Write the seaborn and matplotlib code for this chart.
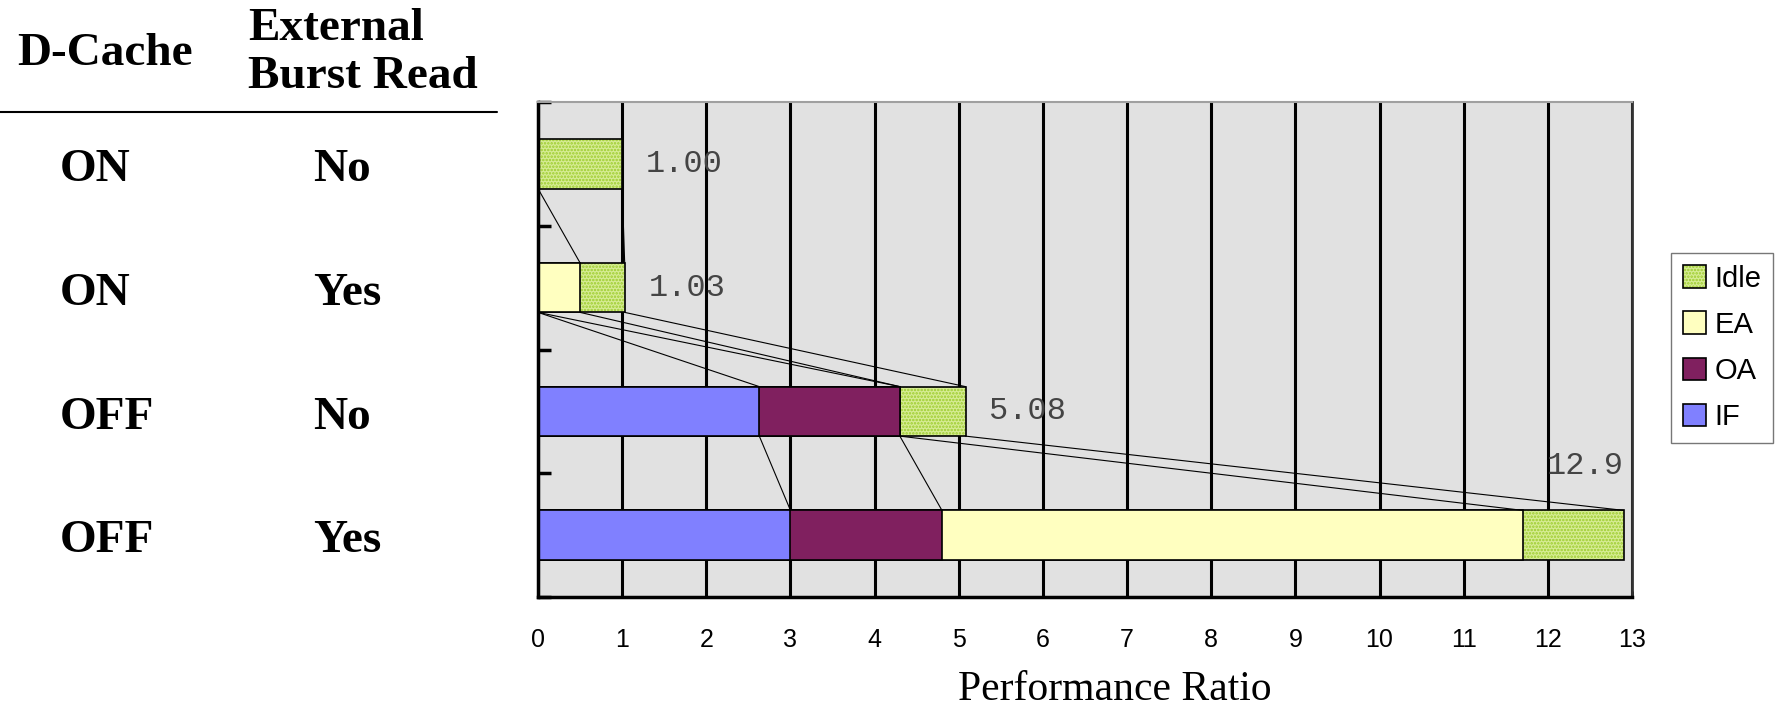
import matplotlib
matplotlib.use('Agg')
import matplotlib.pyplot as plt
import matplotlib.patches as mpatches
import matplotlib.transforms as mtransforms
from matplotlib.lines import Line2D
import seaborn as sns
import pandas as pd
import numpy as np

# valores
configs = ['ON-No', 'ON-Yes', 'OFF-No', 'OFF-Yes']
dcache = ['ON', 'ON', 'OFF', 'OFF']
burst = ['No', 'Yes', 'No', 'Yes']
if_vals = [0.0, 0.0, 2.63, 3.0]
oa_vals = [0.0, 0.0, 1.67, 1.8]
ea_vals = [0.0, 0.5, 0.0, 6.9]
idle_vals = [1.0, 0.53, 0.78, 1.2]
total_labels = ['1.00', '1.03', '5.08', '12.9']
x_ticks = list(range(0, 14))

col_if = '#8080ff'
col_oa = '#80205f'
col_ea = '#ffffc0'
col_idle = '#d6ec94'
col_idle_hatch = '#9ccc2c'

sns.set_style('white')
plt.rcParams['font.family'] = ['Liberation Sans', 'DejaVu Sans']
plt.rcParams['text.color'] = 'black'
plt.rcParams['xtick.color'] = 'black'
plt.rcParams['ytick.color'] = 'black'
plt.rcParams['hatch.linewidth'] = 1.2

df = pd.DataFrame({'config': configs, 'IF': if_vals, 'OA': oa_vals,
                   'EA': ea_vals, 'Idle': idle_vals})
df['c_if'] = df['IF']
df['c_oa'] = df['c_if'] + df['OA']
df['c_ea'] = df['c_oa'] + df['EA']
df['c_idle'] = df['c_ea'] + df['Idle']

fig = plt.figure(figsize=(17.75, 7.07), dpi=100)
ax = fig.add_axes([538 / 1775, 1 - 597 / 707, (1632 - 538) / 1775, (597 - 102) / 707])
ax.set_facecolor('#e1e1e1')

h = 0.4
# capa Idle con trama, luego contorno, luego el resto encima
sns.barplot(data=df, x='c_idle', y='config', orient='h', width=h, color=col_idle,
            saturation=1, errorbar=None, edgecolor=col_idle_hatch, linewidth=0,
            hatch='.....', ax=ax)
sns.barplot(data=df, x='c_idle', y='config', orient='h', width=h, color='black',
            fill=False, saturation=1, errorbar=None, linewidth=1.2, ax=ax)
for col, c in [('c_ea', col_ea), ('c_oa', col_oa), ('c_if', col_if)]:
    sns.barplot(data=df, x=col, y='config', orient='h', width=h, color=c,
                saturation=1, errorbar=None, edgecolor='black', linewidth=1.2, ax=ax)

# lineas de serie entre barras
for col in ['c_if', 'c_oa', 'c_ea', 'c_idle']:
    v = df[col].values
    for i in range(len(v) - 1):
        ax.plot([v[i], v[i + 1]], [i + h / 2, i + 1 - h / 2], color='black', lw=0.8,
                zorder=3)

# etiquetas de totales
for i, lab in enumerate(total_labels):
    tot = df['c_idle'].iloc[i]
    if tot > 11:
        ax.annotate(lab, (tot, i), xytext=(0, 50), textcoords='offset points',
                    ha='right', va='center', fontsize=23, family='Liberation Mono',
                    color='#444444')
    else:
        ax.annotate(lab, (tot, i), xytext=(17, 0), textcoords='offset points',
                    ha='left', va='center', fontsize=23, family='Liberation Mono',
                    color='#444444')

ax.set_xlim(0, 13)
ax.set_ylim(3.5, -0.5)
ax.set_xticks(x_ticks)
ax.set_xticklabels([str(t) for t in x_ticks], fontsize=18)
ax.set_yticks([-0.5, 0.5, 1.5, 2.5, 3.5])
ax.set_yticklabels([])
ax.set_xlabel('')
ax.set_ylabel('')
ax.grid(axis='x', color='black', lw=2.2)
ax.grid(axis='y', visible=False)
ax.set_axisbelow(True)
ax.tick_params(axis='y', direction='in', length=9, width=2.5, left=True, colors='black')
ax.tick_params(axis='x', direction='in', length=4, width=2, pad=22, bottom=True)
for s in ['left', 'bottom']:
    ax.spines[s].set_color('black')
    ax.spines[s].set_linewidth(2.5)
ax.spines['top'].set_color('#a0a0a0')
ax.spines['top'].set_linewidth(1.5)
ax.spines['right'].set_color('#333333')
ax.spines['right'].set_linewidth(2)
for s in ax.spines.values():
    s.set_visible(True)

fig.text(1115 / 1775, 1 - 690 / 707, 'Performance Ratio', ha='center', va='center',
         fontsize=30, family='Liberation Serif')

# leyenda
handles = [
    (mpatches.Patch(facecolor=col_idle, edgecolor=col_idle_hatch, hatch='.....', lw=0),
     mpatches.Patch(fill=False, edgecolor='black', lw=1.2)),
    mpatches.Patch(facecolor=col_ea, edgecolor='black', lw=1.2),
    mpatches.Patch(facecolor=col_oa, edgecolor='black', lw=1.2),
    mpatches.Patch(facecolor=col_if, edgecolor='black', lw=1.2),
]
leg = fig.legend(handles=handles, labels=['Idle', 'EA', 'OA', 'IF'],
                 loc='upper left', bbox_to_anchor=(1671 / 1775, 1 - 253 / 707),
                 bbox_transform=fig.transFigure, borderaxespad=0, fontsize=21,
                 handlelength=0.8, handleheight=0.8, handletextpad=0.3,
                 labelspacing=0.62, borderpad=0.4, frameon=True, fancybox=False)
leg.get_frame().set_edgecolor('#555555')
leg.get_frame().set_linewidth(1)

# tabla de la izquierda
serif = 'Liberation Serif'
fig.text(17 / 1775, 1 - 65 / 707, 'D-Cache', ha='left', va='baseline', fontsize=34,
         fontweight='bold', family=serif)
fig.text(248 / 1775, 1 - 39.5 / 707, 'External', ha='left', va='baseline', fontsize=34,
         fontweight='bold', family=serif)
fig.text(248 / 1775, 1 - 88.5 / 707, 'Burst Read', ha='left', va='baseline', fontsize=34,
         fontweight='bold', family=serif)
fig.add_artist(Line2D([0, 497 / 1775], [1 - 112 / 707, 1 - 112 / 707], color='black',
                      lw=1.5, transform=fig.transFigure))

trans = mtransforms.blended_transform_factory(fig.transFigure, ax.transData)
for i in range(len(configs)):
    ax.annotate(dcache[i], (60 / 1775, i), xycoords=trans, xytext=(0, -12.5),
                textcoords='offset points', ha='left', va='baseline', fontsize=34,
                fontweight='bold', family=serif, annotation_clip=False)
    ax.annotate(burst[i], (313 / 1775, i), xycoords=trans, xytext=(0, -12.5),
                textcoords='offset points', ha='left', va='baseline', fontsize=34,
                fontweight='bold', family=serif, annotation_clip=False)

fig.savefig('out.png', dpi=100)
